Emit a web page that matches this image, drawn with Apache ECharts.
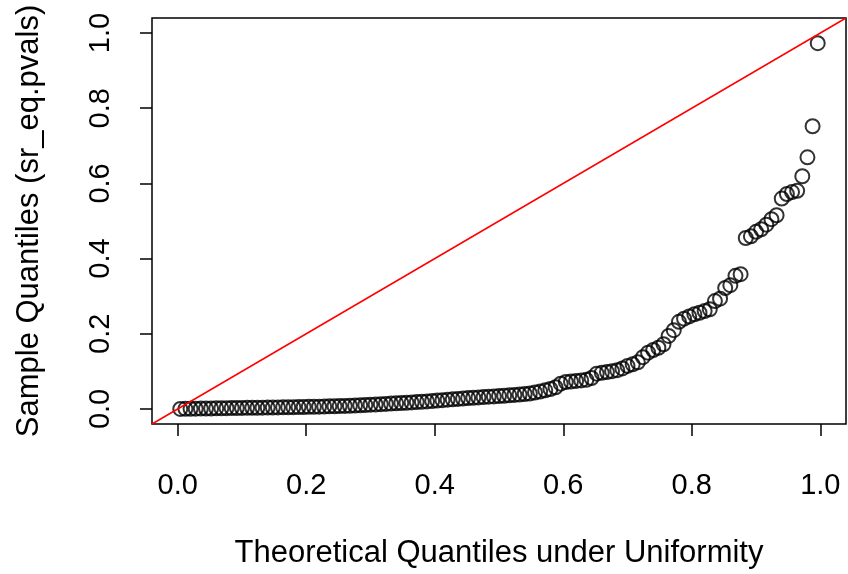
<!DOCTYPE html>
<html>
<head>
<meta charset="utf-8">
<script src="https://cdn.jsdelivr.net/npm/echarts@6/dist/echarts.min.js"></script>
<style>html,body{margin:0;padding:0;background:#fff}#c{width:848px;height:574px}</style>
</head>
<body>
<div id="c"></div>
<script>
// Theoretical quantiles (uniform), n = 125
var theoretical = [0.004,0.012,0.020,0.028,0.036,0.044,0.052,0.060,0.068,0.076,
0.084,0.092,0.100,0.108,0.116,0.124,0.132,0.140,0.148,0.156,
0.164,0.172,0.180,0.188,0.196,0.204,0.212,0.220,0.228,0.236,
0.244,0.252,0.260,0.268,0.276,0.284,0.292,0.300,0.308,0.316,
0.324,0.332,0.340,0.348,0.356,0.364,0.372,0.380,0.388,0.396,
0.404,0.412,0.420,0.428,0.436,0.444,0.452,0.460,0.468,0.476,
0.484,0.492,0.500,0.508,0.516,0.524,0.532,0.540,0.548,0.556,
0.564,0.572,0.580,0.588,0.596,0.604,0.612,0.620,0.628,0.636,
0.644,0.652,0.660,0.668,0.676,0.684,0.692,0.700,0.708,0.716,
0.724,0.732,0.740,0.748,0.756,0.764,0.772,0.780,0.788,0.796,
0.804,0.812,0.820,0.828,0.836,0.844,0.852,0.860,0.868,0.876,
0.884,0.892,0.900,0.908,0.916,0.924,0.932,0.940,0.948,0.956,
0.964,0.972,0.980,0.988,0.996];
// Sample quantiles (sorted p-values)
var sample = [0.0001,0.0003,0.0004,0.0007,0.0009,0.0011,0.0013,0.0016,0.0018,0.0021,
0.0023,0.0025,0.0028,0.0029,0.0031,0.0033,0.0034,0.0036,0.0038,0.0041,
0.0043,0.0046,0.0048,0.0051,0.0053,0.0056,0.0058,0.0061,0.0065,0.0069,
0.0072,0.0076,0.0081,0.0085,0.0092,0.0098,0.0106,0.0113,0.0119,0.0127,
0.0134,0.0142,0.0149,0.0158,0.0166,0.0174,0.0183,0.0192,0.0201,0.0212,
0.0222,0.0234,0.0246,0.0257,0.0268,0.0279,0.0289,0.0298,0.0308,0.0317,
0.0326,0.0334,0.0343,0.0352,0.0362,0.0373,0.0385,0.0398,0.0412,0.0438,
0.0462,0.0495,0.0531,0.0578,0.0672,0.0718,0.0731,0.0745,0.0758,0.0776,
0.0823,0.0938,0.0962,0.0981,0.1006,0.1032,0.1078,0.1146,0.1188,0.1241,
0.1378,0.1497,0.1569,0.1628,0.1721,0.1942,0.2095,0.2318,0.2401,0.2462,
0.2518,0.2559,0.2603,0.2652,0.2871,0.2934,0.3218,0.3294,0.3541,0.3586,
0.4548,0.4592,0.4713,0.4781,0.4902,0.5049,0.5153,0.5597,0.5718,0.5769,
0.5802,0.6191,0.6694,0.7521,0.9731];
var tickValues = [0, 0.2, 0.4, 0.6, 0.8, 1.0];
var refLine = [[-0.04, -0.04], [1.04, 1.04]];

var points = theoretical.map(function (x, i) { return [x, sample[i]]; });
var font = 'Liberation Sans, Arial, Helvetica, sans-serif';
var chart = echarts.init(document.getElementById('c'), null, {renderer: 'canvas'});
chart.setOption({
  animation: false,
  backgroundColor: '#fff',
  grid: {left: 152, right: 2, top: 18, bottom: 149, show: true, borderColor: '#000', borderWidth: 1.5, backgroundColor: 'transparent'},
  xAxis: {
    type: 'value', min: -0.04, max: 1.04,
    name: 'Theoretical Quantiles under Uniformity', nameLocation: 'middle', nameGap: 114,
    nameTextStyle: {fontFamily: font, fontSize: 31, color: '#000'},
    axisLine: {show: false, onZero: false},
    axisTick: {show: true, customValues: tickValues, length: 12, lineStyle: {color: '#000', width: 1.5}},
    axisLabel: {customValues: tickValues, margin: 47, fontFamily: font, fontSize: 29, color: '#000',
      formatter: function (v) { return v.toFixed(1); }},
    splitLine: {show: false}
  },
  yAxis: {
    type: 'value', min: -0.04, max: 1.04,
    name: 'Sample Quantiles (sr_eq.pvals)', nameLocation: 'middle', nameGap: 107, nameRotate: 90,
    nameTextStyle: {fontFamily: font, fontSize: 31, color: '#000'},
    axisLine: {show: false, onZero: false},
    axisTick: {show: true, customValues: tickValues, length: 12, lineStyle: {color: '#000', width: 1.5}},
    axisLabel: {customValues: tickValues, margin: 37, rotate: 90, fontFamily: font, fontSize: 29, color: '#000',
      formatter: function (v) { return v.toFixed(1); }},
    splitLine: {show: false}
  },
  series: [
    {type: 'scatter', data: points, symbol: 'circle', symbolSize: 14,
      itemStyle: {color: 'transparent', borderColor: '#000', borderWidth: 2}, z: 2},
    {type: 'line', data: refLine, showSymbol: false, symbol: 'none',
      lineStyle: {color: '#FF0000', width: 1.5}, z: 3, clip: true}
  ]
});
</script>
</body>
</html>
